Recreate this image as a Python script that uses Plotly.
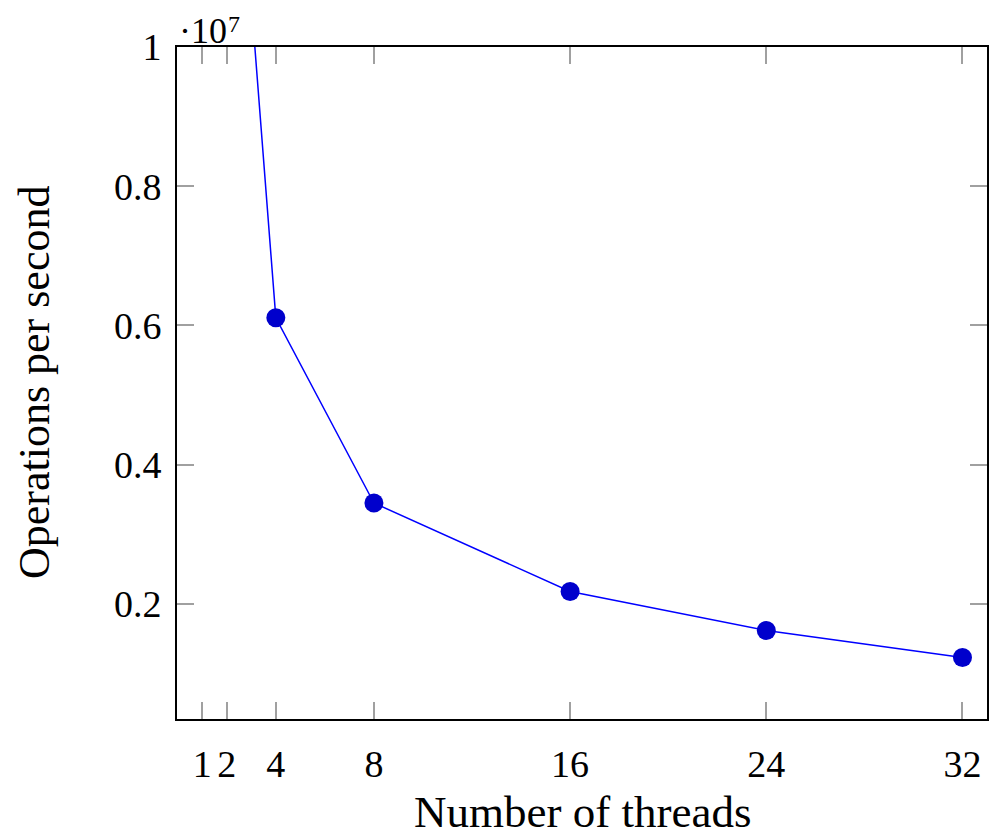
import plotly.graph_objects as go

# threads vs throughput (ops/sec); 1 and 2 threads lie above the plotted range
threads = [1, 2, 4, 8, 16, 24, 32]
ops_per_sec = [2.5e7, 1.52e7, 6.11e6, 3.45e6, 2.18e6, 1.62e6, 1.23e6]

x_ticks = [1, 2, 4, 8, 16, 24, 32]
y_ticks = [2e6, 4e6, 6e6, 8e6, 1e7]
y_ticktext = ['0.2', '0.4', '0.6', '0.8', '1']

FONT = 'Liberation Serif'
LINE = 'rgb(0,0,255)'
MARK = 'rgb(0,0,204)'

fig = go.Figure()
fig.add_trace(go.Scatter(
    x=threads, y=ops_per_sec,
    mode='lines+markers',
    line=dict(color=LINE, width=1.5),
    marker=dict(color=MARK, size=19),
    cliponaxis=True,
    showlegend=False,
))

axis_common = dict(
    ticks='inside', ticklen=17, tickcolor='#a0a0a0', tickwidth=1.5,
    showline=True, linecolor='black', linewidth=2, mirror='ticks',
    showgrid=False, zeroline=False, automargin=False,
    tickfont=dict(family=FONT, size=38, color='black'),
)

# page body adds an 8px margin, so the figure is 8px smaller than the window
fig.update_layout(
    width=989, height=832,
    margin=dict(l=169, r=10, t=39, b=121),
    plot_bgcolor='white', paper_bgcolor='white',
    font=dict(family=FONT, size=38, color='black'),
    xaxis=dict(range=[-0.03, 33.0], tickvals=x_ticks,
               ticktext=[str(t) for t in x_ticks],
               ticklabelstandoff=10, **axis_common),
    yaxis=dict(range=[3.48e5, 1e7], tickvals=y_ticks, ticktext=y_ticktext,
               ticklabelstandoff=6, **axis_common),
    annotations=[
        # axis multiplier, drawn as base + raised exponent
        dict(text='·10', xref='paper', yref='paper',
             x=0, y=1, xanchor='left', yanchor='middle', xshift=0, yshift=16,
             showarrow=False, font=dict(family=FONT, size=36)),
        dict(text='7', xref='paper', yref='paper',
             x=0, y=1, xanchor='left', yanchor='middle', xshift=49, yshift=23,
             showarrow=False, font=dict(family=FONT, size=24)),
        dict(text='Number of threads', xref='paper', yref='paper',
             x=0.5, y=0, xanchor='center', yanchor='middle', yshift=-93,
             showarrow=False, font=dict(family=FONT, size=45)),
        dict(text='Operations per second', xref='paper', yref='paper',
             x=0, y=0.5, xanchor='center', yanchor='middle', xshift=-143,
             textangle=-90, showarrow=False, font=dict(family=FONT, size=44)),
    ],
)

fig.write_html('out.html')
